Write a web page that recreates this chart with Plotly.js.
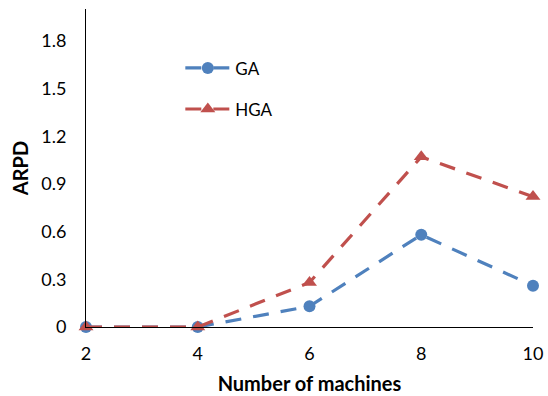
<!DOCTYPE html>
<html>
<head>
<meta charset="utf-8">
<script src="https://cdn.plot.ly/plotly-3.0.1.min.js"></script>
<style>html,body{margin:0;padding:0;background:#fff}#chart{width:548px;height:396px}</style>
</head>
<body>
<div id="chart"></div>
<script>
const machines = [2, 4, 6, 8, 10];
const gaValues = [0, 0, 0.13, 0.58, 0.26];
const hgaValues = [0, 0, 0.28, 1.07, 0.82];
const xTicks = [2, 4, 6, 8, 10];
const yTicks = [0, 0.3, 0.6, 0.9, 1.2, 1.5, 1.8];
const yTickLabels = ['0', '0.3', '0.6', '0.9', '1.2', '1.5', '1.8'];

const fontFam = 'Lato, "Open Sans", sans-serif';

const traces = [
  {
    x: machines, y: gaValues, name: 'GA', type: 'scatter', mode: 'lines+markers',
    line: {color: '#4F81BD', width: 3.2, dash: '16px,12px'},
    marker: {symbol: 'circle', size: 12, color: '#4F81BD'},
    cliponaxis: false, legendgroup: 'a'
  },
  {
    x: machines, y: hgaValues, name: 'HGA', type: 'scatter', mode: 'lines+markers',
    line: {color: '#C0504D', width: 3.2, dash: '16px,12px'},
    marker: {symbol: 'triangle-up', size: 13, color: '#C0504D'},
    cliponaxis: false, legendgroup: 'b'
  }
];

const layout = {
  width: 548, height: 396,
  margin: {l: 86, r: 15, t: 9, b: 69},
  paper_bgcolor: '#fff', plot_bgcolor: '#fff',
  font: {family: fontFam, size: 17, color: '#000'},
  showlegend: true,
  legend: {
    x: 0.211, y: 0.87, xanchor: 'left', yanchor: 'top',
    bgcolor: 'rgba(0,0,0,0)', traceorder: 'grouped', tracegroupgap: 16,
    font: {family: fontFam, size: 17, color: '#000'}, itemwidth: 45
  },
  xaxis: {
    range: [2, 10], tickvals: xTicks, ticktext: xTicks.map(String),
    showgrid: false, zeroline: false, showline: true, linecolor: '#000', linewidth: 1,
    ticks: '', ticklabelstandoff: 10,
    tickfont: {family: fontFam, size: 18, color: '#000'},
    title: {text: 'Number of machines', font: {family: fontFam, size: 20, color: '#000', weight: 'bold'}, standoff: 14}
  },
  yaxis: {
    range: [0, 2], tickvals: yTicks, ticktext: yTickLabels,
    showgrid: false, zeroline: false, showline: true, linecolor: '#000', linewidth: 1,
    ticks: '', ticklabelstandoff: 15,
    tickfont: {family: fontFam, size: 18, color: '#000'},
    title: {text: 'ARPD', font: {family: fontFam, size: 20, color: '#000', weight: 'bold'}, standoff: 7}
  }
};

Plotly.newPlot('chart', traces, layout, {displayModeBar: false, staticPlot: true});
</script>
</body>
</html>
